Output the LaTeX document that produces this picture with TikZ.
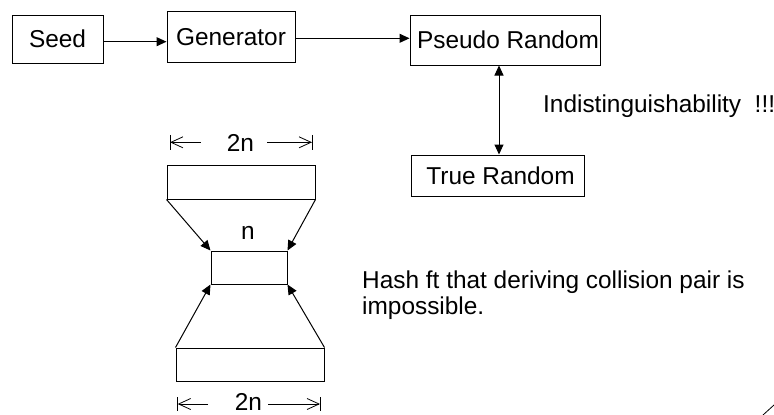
\documentclass[tikz,border=0pt]{standalone}
\usepackage{fontspec}
\setmainfont{Liberation Sans}
\usetikzlibrary{arrows.meta}
\begin{document}
\begin{tikzpicture}[x=1pt,y=-1pt,
  font=\fontsize{24.4}{26}\selectfont,
  every node/.style={inner sep=0pt},
  box/.style={draw, line width=1pt, text height=17pt, text depth=0pt},
  conn/.style={line width=1pt, -{Triangle[length=10pt,width=9pt]}},
  dconn/.style={line width=1pt, {Triangle[length=10pt,width=9pt]}-{Triangle[length=10pt,width=9pt]}},
  dimarrow/.style={line width=0.8pt, -{Straight Barb[length=12pt,width=11pt]}},
  dimbar/.style={line width=0.8pt}]
\useasboundingbox (0,0) rectangle (774,415);

% top chain
\node[box, minimum width=91pt, minimum height=48pt] (seed) at (57.5,39) {Seed};
\node[box, minimum width=128pt, minimum height=51pt] (gen) at (231,36.5) {Generator};
\node[box, minimum width=190pt, minimum height=50pt] (pr) at (505,40) {\hspace*{6pt}Pseudo Random};
\node[box, minimum width=173pt, minimum height=41pt] (tr) at (497.5,175.5) {\hspace*{6pt}True Random};

\draw[conn] ([yshift=-2.7pt]seed.east) -- ([yshift=-2.7pt]seed.east -| gen.west);
\draw[conn] ([yshift=-1.8pt]gen.east) -- ([yshift=-1.8pt]gen.east -| pr.west);
\draw[dconn] ([xshift=-6pt]pr.south) -- ([xshift=1.5pt]tr.north);

\node[anchor=base west] (ind) at (543,112) {Indistinguishability\ \ !!!};

% hourglass
\node[draw, line width=1pt, minimum width=148pt, minimum height=34pt] (topb) at (241,182) {};
\node[draw, line width=1pt, minimum width=76pt, minimum height=33pt] (mid) at (249,267.5) {};
\node[draw, line width=1pt, minimum width=148pt, minimum height=33pt] (botb) at (250,364.5) {};

\draw[conn] (topb.south west) -- (mid.north west);
\draw[conn] (topb.south east) -- (mid.north east);
\draw[conn] (botb.north west) -- (mid.south west);
\draw[conn] (botb.north east) -- (mid.south east);

\node[anchor=base] (nlab) at (248,239) {n};

% top dimension
\node[anchor=base] (dimt) at (240.5,151) {2n};
\coordinate (tl) at (170,142.3);
\coordinate (tla) at (200.7,142.3);
\coordinate (tr1) at (267,142.3);
\coordinate (tra) at (312,142.3);
\draw[dimarrow] (tla) -- (tl);
\draw[dimarrow] (tr1) -- (tra);
\draw[dimbar] ([yshift=7.5pt]tl) -- ([yshift=-7.5pt]tl);
\draw[dimbar] ([yshift=7.5pt]tra) -- ([yshift=-7.5pt]tra);

% bottom dimension
\node[anchor=base] (dimb) at (248.5,410.5) {2n};
\coordinate (bl) at (177.7,404);
\coordinate (bla) at (208,404);
\coordinate (br1) at (268,404);
\coordinate (bra) at (320,404);
\draw[dimarrow] (bla) -- (bl);
\draw[dimarrow] (br1) -- (bra);
\draw[dimbar] ([yshift=7pt]bl) -- ([yshift=-7pt]bl);
\draw[dimbar] ([yshift=7pt]bra) -- ([yshift=-7pt]bra);

% hash text
\node[anchor=base west] (hash1) at (362,288) {Hash ft that deriving collision pair is};
\node[anchor=base west] (hash2) at (362,314) {impossible.};

% stray corner stroke
\draw[line width=0.8pt] (763,415) -- (774,405);
\end{tikzpicture}
\end{document}
